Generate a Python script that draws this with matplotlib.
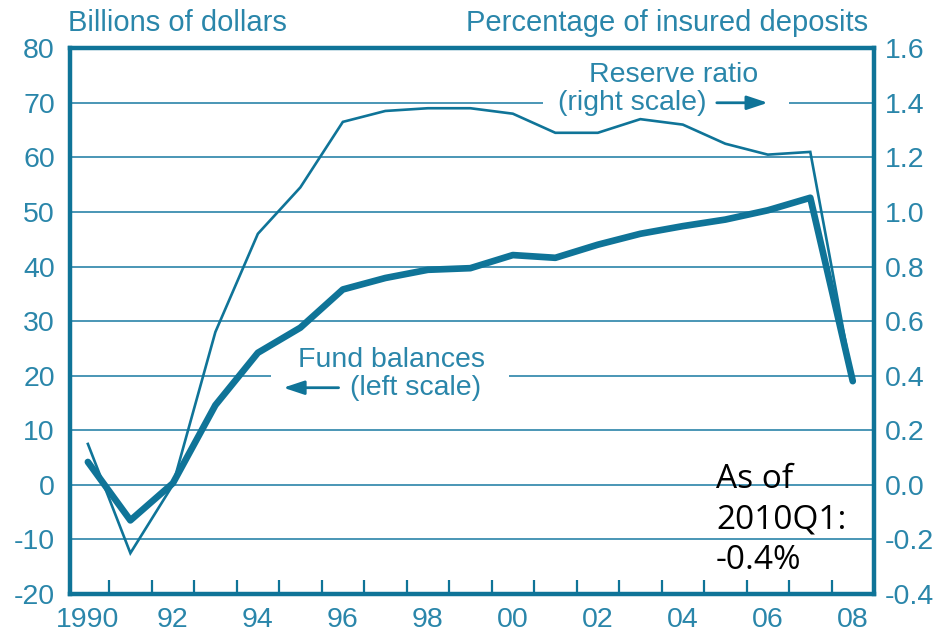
import numpy as np
import matplotlib.pyplot as plt
from matplotlib.patches import Rectangle

years = [1990, 1991, 1992, 1993, 1994, 1995, 1996, 1997, 1998, 1999,
         2000, 2001, 2002, 2003, 2004, 2005, 2006, 2007, 2008]
fund_balances = [4.2, -6.5, 0.3, 14.6, 24.2, 28.8, 35.8, 37.9, 39.4, 39.7,
                 42.1, 41.6, 44.0, 46.0, 47.4, 48.6, 50.3, 52.6, 19.0]
reserve_ratio = [0.15, -0.25, 0.0, 0.56, 0.92, 1.09, 1.33, 1.37, 1.38, 1.38,
                 1.36, 1.29, 1.29, 1.34, 1.32, 1.25, 1.21, 1.22, 0.38]
year_labels = ['1990', '92', '94', '96', '98', '00', '02', '04', '06', '08']
left_ticks = [-20, -10, 0, 10, 20, 30, 40, 50, 60, 70, 80]
right_ticks = ['-0.4', '-0.2', '0.0', '0.2', '0.4', '0.6', '0.8', '1.0', '1.2', '1.4', '1.6']

line_c = '#0f7498'
grid_c = '#3b8db0'
text_c = '#2a86aa'
fs = 20.5
plt.rcParams['font.family'] = ['Liberation Sans', 'DejaVu Sans']

fig = plt.figure(figsize=(9.49, 6.34), dpi=100)
ax = fig.add_axes([0.0738, 0.063, 0.8472, 0.861])

ax.set_xlim(1989.58, 2008.5)
ax.set_ylim(-20, 80)

# horizontal grid
for v in left_ticks[1:-1]:
    ax.axhline(v, color=grid_c, lw=1.3, zorder=1)

# white boxes behind labels
ax.add_patch(Rectangle((2000.7, 67.5), 5.8, 10.5, facecolor='white', edgecolor='none', zorder=2))
ax.add_patch(Rectangle((1994.3, 15.5), 5.6, 9.5, facecolor='white', edgecolor='none', zorder=2))

# reserve ratio on left scale units (right = left / 50)
ax.plot(years, np.array(reserve_ratio) * 50, color=line_c, lw=1.9, zorder=3,
        solid_joinstyle='miter')
ax.plot(years, fund_balances, color=line_c, lw=4.8, zorder=4, solid_capstyle='round')

arrow = dict(arrowstyle='-|>,head_length=0.9,head_width=0.3', color=line_c, lw=2.0,
             mutation_scale=14, shrinkA=0, shrinkB=0)
ax.text(2003.79, 75.1, 'Reserve ratio', ha='center', va='center', fontsize=fs, color=text_c, zorder=5)
ax.text(2002.82, 70.0, '(right scale)', ha='center', va='center', fontsize=fs, color=text_c, zorder=5)
ax.annotate('', xy=(2006.0, 70.0), xytext=(2004.8, 70.0), zorder=5, arrowprops=arrow)
ax.text(1997.15, 22.9, 'Fund balances', ha='center', va='center', fontsize=fs, color=text_c, zorder=5)
ax.text(1997.7, 17.8, '(left scale)', ha='center', va='center', fontsize=fs, color=text_c, zorder=5)
ax.annotate('', xy=(1994.6, 17.8), xytext=(1995.9, 17.8), zorder=5, arrowprops=arrow)

ax.text(2004.78, 4.0, 'As of\n2010Q1:\n-0.4%', ha='left', va='top', fontsize=24,
        family=['Open Sans', 'DejaVu Sans'], color='black', linespacing=1.3, zorder=6)

for s in ax.spines.values():
    s.set_color(line_c)
    s.set_linewidth(3.2)

# x ticks: marks between years, labels on even years
ax.set_xticks(np.arange(1990.5, 2008, 1.0))
ax.set_xticklabels([])
ax.tick_params(axis='x', which='major', direction='in', length=10, width=1.6, color=line_c)
ax.set_xticks(years[::2], minor=True)
ax.set_xticklabels(year_labels, minor=True)
ax.tick_params(axis='x', which='minor', length=0, pad=9, labelsize=fs, labelcolor=text_c)

ax.set_yticks(left_ticks)
ax.set_yticklabels([str(v) for v in left_ticks])
ax.tick_params(axis='y', length=0, pad=11, labelsize=fs, labelcolor=text_c)

ax2 = ax.twinx()
ax2.set_ylim(-0.4, 1.6)
ax2.set_yticks([float(t) for t in right_ticks])
ax2.set_yticklabels(right_ticks)
ax2.tick_params(axis='y', length=0, pad=8, labelsize=fs, labelcolor=text_c)
for s in ax2.spines.values():
    s.set_visible(False)

fig.text(0.072, 0.963, 'Billions of dollars', ha='left', va='center', fontsize=fs + 0.5, color=text_c)
fig.text(0.915, 0.963, 'Percentage of insured deposits', ha='right', va='center', fontsize=fs + 0.5, color=text_c)

fig.savefig('out.png', dpi=100)
